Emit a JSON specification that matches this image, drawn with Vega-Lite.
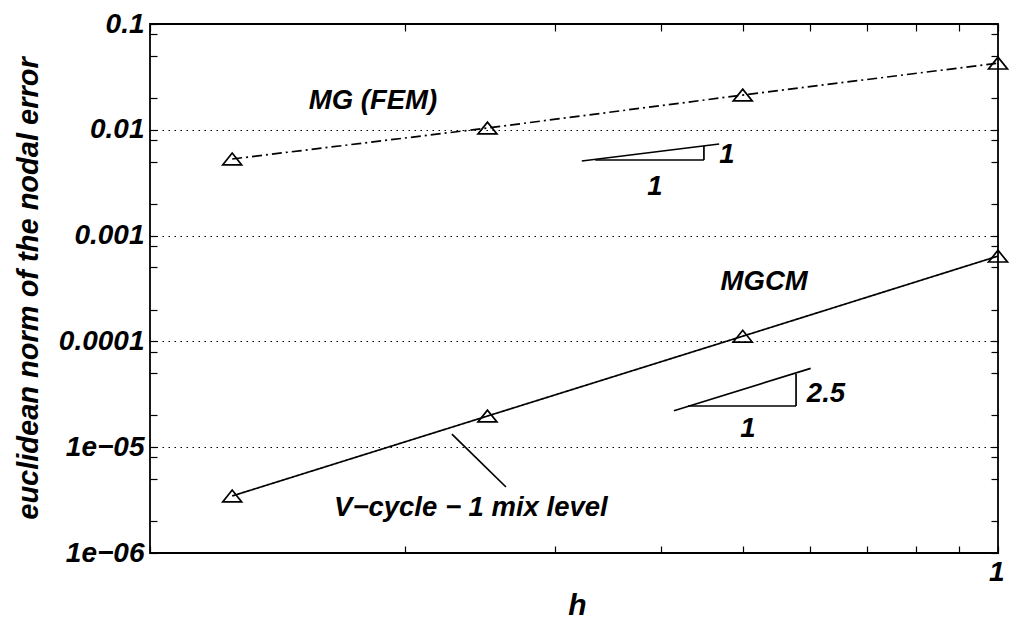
{
  "$schema": "https://vega.github.io/schema/vega-lite/v6.json",
  "width": 848,
  "height": 529,
  "autosize": {"type": "none"},
  "padding": {"left": 150, "top": 24, "right": 18, "bottom": 67},
  "background": "white",
  "config": {
    "view": {"stroke": "black", "strokeWidth": 1.8},
    "font": "Liberation Sans",
    "axis": {
      "labelFont": "Liberation Sans", "labelFontStyle": "italic", "labelFontWeight": "bold", "labelFontSize": 28, "labelColor": "black",
      "titleFont": "Liberation Sans", "titleFontStyle": "italic", "titleFontWeight": "bold", "titleFontSize": 28, "titleColor": "black",
      "tickColor": "black", "tickWidth": 1.2, "domain": false
    },
    "text": {"font": "Liberation Sans", "fontStyle": "italic", "fontWeight": "bold", "fontSize": 27.5, "color": "black"}
  },
  "datasets": {
    "series": [
      {"h": 0.125, "err": 0.0053, "method": "MG (FEM)"},
      {"h": 0.25, "err": 0.0104, "method": "MG (FEM)"},
      {"h": 0.5, "err": 0.0213, "method": "MG (FEM)"},
      {"h": 1, "err": 0.0427, "method": "MG (FEM)"},
      {"h": 0.125, "err": 0.00000346, "method": "MGCM"},
      {"h": 0.25, "err": 0.0000197, "method": "MGCM"},
      {"h": 0.5, "err": 0.000112, "method": "MGCM"},
      {"h": 1, "err": 0.00064, "method": "MGCM"}
    ],
    "segments": [
      {"x1": 0.323, "y1": 0.00507, "x2": 0.469, "y2": 0.00734},
      {"x1": 0.335, "y1": 0.00518, "x2": 0.45, "y2": 0.00518},
      {"x1": 0.45, "y1": 0.00518, "x2": 0.45, "y2": 0.00703},
      {"x1": 0.4148, "y1": 0.00002213, "x2": 0.6013, "y2": 0.00005567},
      {"x1": 0.431, "y1": 0.00002451, "x2": 0.5779, "y2": 0.00002451},
      {"x1": 0.5779, "y1": 0.00002451, "x2": 0.5779, "y2": 0.00004917},
      {"x1": 0.227, "y1": 0.00001332, "x2": 0.2629, "y2": 0.000004205}
    ],
    "labels": [
      {"x": 0.479, "y": 0.00578, "text": "1"},
      {"x": 0.394, "y": 0.00288, "text": "1"},
      {"x": 0.6268, "y": 0.00003183, "text": "2.5"},
      {"x": 0.5072, "y": 0.00001486, "text": "1"},
      {"x": 0.239, "y": 0.000002662, "text": "V−cycle − 1 mix level"},
      {"x": 0.5299, "y": 0.0003642, "text": "MGCM"},
      {"x": 0.1832, "y": 0.01872, "text": "MG (FEM)"}
    ]
  },
  "resolve": {"axis": {"x": "independent", "y": "independent"}},
  "layer": [
    {
      "data": {"name": "series"},
      "mark": {"type": "line", "color": "black", "strokeWidth": 1.7},
      "encoding": {
        "x": {"field": "h", "type": "quantitative",
              "scale": {"type": "log", "domain": [0.1, 1], "nice": false},
              "axis": {"orient": "bottom", "title": "h", "values": [0.1,0.2,0.3,0.4,0.5,0.6,0.7,0.8,0.9,1],
                       "labelExpr": "datum.value == 1 ? '1' : ''", "tickSize": -7, "labelPadding": 12, "labelOffset": 6,
                       "grid": false, "titleX": 427, "titleY": 52, "titleBaseline": "middle", "titleAlign": "center", "titleFontSize": 30, "labelBound": false, "labelOverlap": false}},
        "y": {"field": "err", "type": "quantitative",
              "scale": {"type": "log", "domain": [0.000001, 0.1], "nice": false},
              "axis": {"orient": "left", "title": "euclidean norm of the nodal error",
                       "values": [0.000001,0.000002,0.000005,0.000008,0.00001,0.00002,0.00005,0.00008,0.0001,0.0002,0.0005,0.0008,0.001,0.002,0.005,0.008,0.01,0.02,0.05,0.08,0.1],
                       "labelExpr": "abs(log(datum.value)/LN10 - round(log(datum.value)/LN10)) < 0.001 ? (datum.value >= 0.0001 ? format(datum.value, '') : '1e−0' + (-round(log(datum.value)/LN10))) : ''",
                       "tickSize": -7, "labelPadding": 13, "labelOverlap": false, "labelBound": false,
                       "grid": true, "gridColor": "black", "gridDash": [1.5, 4.5], "gridWidth": 1.1,
                       "gridOpacity": {"condition": {"test": "abs(log(datum.value)/LN10 - round(log(datum.value)/LN10)) < 0.001", "value": 1}, "value": 0},
                       "titleAngle": -90, "titleX": -122, "titleY": 264, "titleBaseline": "middle", "titleAlign": "center", "titleFontSize": 29}},
        "strokeDash": {"field": "method", "type": "nominal",
                       "scale": {"domain": ["MG (FEM)", "MGCM"], "range": [[10, 4, 2, 4], [1, 0]]}, "legend": null}
      }
    },
    {
      "data": {"name": "series"},
      "mark": {"type": "point", "shape": "M-1,0.62L1,0.62L0,-0.62Z", "filled": false, "color": "black", "strokeWidth": 1.7, "size": 360, "opacity": 1},
      "encoding": {
        "x": {"field": "h", "type": "quantitative", "scale": {"type": "log"},
              "axis": {"orient": "top", "values": [0.1,0.2,0.3,0.4,0.5,0.6,0.7,0.8,0.9,1], "labels": false, "title": null, "tickSize": -7, "grid": false}},
        "y": {"field": "err", "type": "quantitative", "scale": {"type": "log"},
              "axis": {"orient": "right", "values": [0.000001,0.000002,0.000005,0.000008,0.00001,0.00002,0.00005,0.00008,0.0001,0.0002,0.0005,0.0008,0.001,0.002,0.005,0.008,0.01,0.02,0.05,0.08,0.1],
                       "labels": false, "title": null, "tickSize": -7, "grid": false}}
      }
    },
    {
      "data": {"name": "segments"},
      "mark": {"type": "rule", "color": "black", "strokeWidth": 1.7},
      "encoding": {
        "x": {"field": "x1", "type": "quantitative", "scale": {"type": "log"}, "axis": null},
        "y": {"field": "y1", "type": "quantitative", "scale": {"type": "log"}, "axis": null},
        "x2": {"field": "x2"},
        "y2": {"field": "y2"}
      }
    },
    {
      "data": {"name": "labels"},
      "mark": {"type": "text", "align": "center", "baseline": "middle"},
      "encoding": {
        "x": {"field": "x", "type": "quantitative", "scale": {"type": "log"}, "axis": null},
        "y": {"field": "y", "type": "quantitative", "scale": {"type": "log"}, "axis": null},
        "text": {"field": "text", "type": "nominal"}
      }
    }
  ]
}
